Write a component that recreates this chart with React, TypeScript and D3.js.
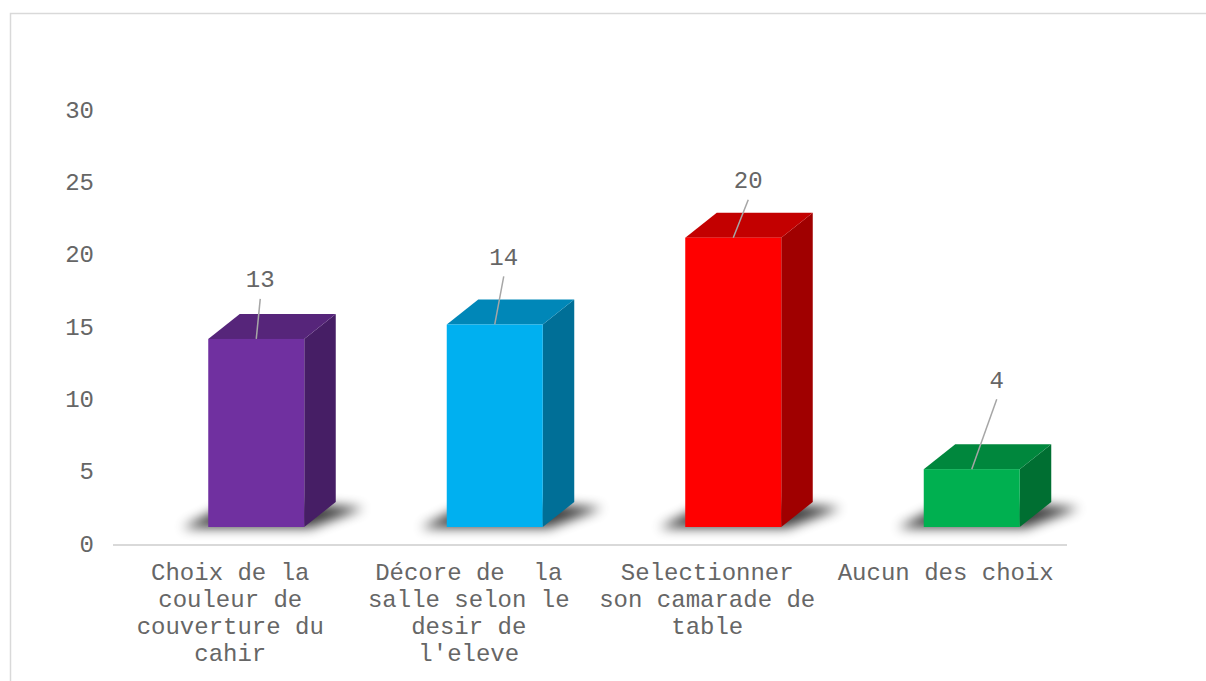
import React, { useEffect, useRef } from "react";
import * as d3 from "d3";

const categories = [
  ["Choix de la", "couleur de", "couverture du", "cahir"],
  ["Décore de  la", "salle selon le", "desir de", "l'eleve"],
  ["Selectionner", "son camarade de", "table"],
  ["Aucun des choix"]
];
const values = [13, 14, 20, 4];
const yTicks = [0, 5, 10, 15, 20, 25, 30];

const colors = ["#7030A0", "#00B0F0", "#FF0000", "#00B050"];
// label nudges (dragged by hand in the original)
const labelNudge = [
  [4, -58],
  [9, -66],
  [15, -56],
  [25, -88]
];

const width = 1206;
const height = 681;
const font = "'Liberation Mono', 'Courier New', monospace";
const textColor = "#666666";
const depthX = 31.5;
const depthY = 25;
const lift = 18;

const App = () => {
  const chart = useRef<SVGSVGElement>(null);

  useEffect(() => {
    const svg = d3.select(chart.current);
    svg.selectAll("*").remove();

    const defs = svg.append("defs");
    defs
      .append("filter")
      .attr("id", "shadow")
      .attr("x", "-50%")
      .attr("y", "-100%")
      .attr("width", "200%")
      .attr("height", "300%")
      .append("feGaussianBlur")
      .attr("stdDeviation", 6);

    svg
      .append("rect")
      .attr("x", 10.5)
      .attr("y", 13.5)
      .attr("width", 1220)
      .attr("height", 700)
      .attr("fill", "#fff")
      .attr("stroke", "#d9d9d9")
      .attr("stroke-width", 1.5);

    const x = d3
      .scaleBand<number>()
      .domain(d3.range(values.length))
      .range([113, 1067]);
    const y = d3.scaleLinear().domain([0, 30]).range([545, 111]);

    // y tick labels
    svg
      .append("g")
      .selectAll("text")
      .data(yTicks)
      .join("text")
      .attr("x", 94)
      .attr("y", d => y(d))
      .attr("text-anchor", "end")
      .attr("dominant-baseline", "central")
      .attr("font-family", font)
      .attr("font-size", 24)
      .attr("fill", textColor)
      .text(d => d);

    // axis line
    svg
      .append("line")
      .attr("x1", 113)
      .attr("x2", 1067)
      .attr("y1", y(0))
      .attr("y2", y(0))
      .attr("stroke", "#d9d9d9")
      .attr("stroke-width", 2);

    const bars = svg
      .append("g")
      .selectAll("g")
      .data(values)
      .join("g");

    const geom = (v: number, i: number) => {
      const c = x(i)! + x.bandwidth() / 2;
      const L = c - 24;
      const R = L + 96;
      const B = y(0) - lift;
      const T = y(v) - lift;
      return { L, R, B, T };
    };

    // shadows
    bars
      .append("path")
      .attr("d", (v, i) => {
        const { L, R, B } = geom(v, i);
        return `M${L - 26},${B + 1} L${R + 6},${B + 1} L${R + depthX + 28},${B - depthY + 6} L${L + depthX},${B - depthY - 4} Z`;
      })
      .attr("fill", "#000")
      .attr("opacity", 0.75)
      .attr("filter", "url(#shadow)");

    // side face
    bars
      .append("path")
      .attr("d", (v, i) => {
        const { R, B, T } = geom(v, i);
        return `M${R},${B} L${R},${T} L${R + depthX},${T - depthY} L${R + depthX},${B - depthY} Z`;
      })
      .attr("fill", (v, i) => d3.color(colors[i])!.darker(1.3).formatHex());

    // top face
    bars
      .append("path")
      .attr("d", (v, i) => {
        const { L, R, T } = geom(v, i);
        return `M${L},${T} L${R},${T} L${R + depthX},${T - depthY} L${L + depthX},${T - depthY} Z`;
      })
      .attr("fill", (v, i) => d3.color(colors[i])!.darker(0.75).formatHex());

    // front face
    bars
      .append("rect")
      .attr("x", (v, i) => geom(v, i).L)
      .attr("y", (v, i) => geom(v, i).T)
      .attr("width", 96)
      .attr("height", (v, i) => geom(v, i).B - geom(v, i).T)
      .attr("fill", (v, i) => colors[i]);

    // data labels + leader lines
    bars
      .append("line")
      .attr("x1", (v, i) => (geom(v, i).L + geom(v, i).R) / 2 + labelNudge[i][0])
      .attr("y1", (v, i) => geom(v, i).T + labelNudge[i][1] + 18)
      .attr("x2", (v, i) => (geom(v, i).L + geom(v, i).R) / 2)
      .attr("y2", (v, i) => geom(v, i).T)
      .attr("stroke", "#a6a6a6")
      .attr("stroke-width", 1.5);

    bars
      .append("text")
      .attr("x", (v, i) => (geom(v, i).L + geom(v, i).R) / 2 + labelNudge[i][0])
      .attr("y", (v, i) => geom(v, i).T + labelNudge[i][1])
      .attr("text-anchor", "middle")
      .attr("dominant-baseline", "central")
      .attr("font-family", font)
      .attr("font-size", 24)
      .attr("fill", textColor)
      .text(v => v);

    // category labels
    svg
      .append("g")
      .selectAll("text")
      .data(categories)
      .join("text")
      .attr("font-family", font)
      .attr("font-size", 24)
      .attr("fill", textColor)
      .attr("text-anchor", "middle")
      .attr("xml:space", "preserve")
      .selectAll("tspan")
      .data((d, i) => d.map(line => ({ line, i })))
      .join("tspan")
      .attr("x", d => x(d.i)! + x.bandwidth() / 2 - 2)
      .attr("y", (d, j) => 573 + j * 27.2)
      .attr("dominant-baseline", "central")
      .text(d => d.line);
  }, []);

  return (
    <svg
      ref={chart}
      width={width}
      height={height}
      viewBox={`0 0 ${width} ${height}`}
      style={{ position: "absolute", left: 0, top: 0, display: "block" }}
    ></svg>
  );
};

export default App;
